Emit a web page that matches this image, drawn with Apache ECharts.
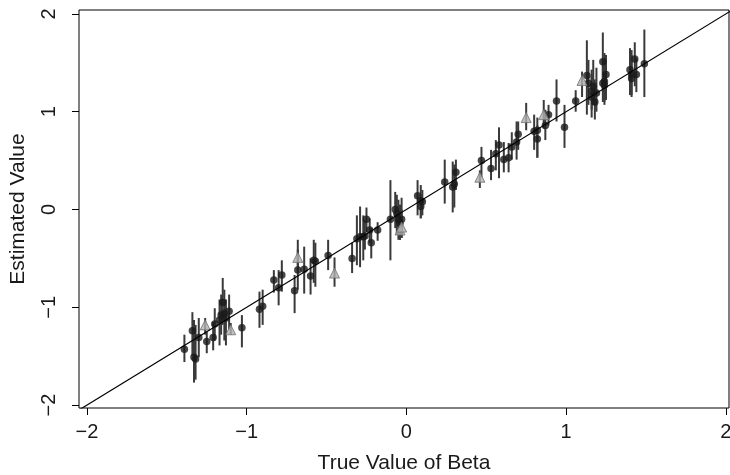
<!DOCTYPE html>
<html><head><meta charset="utf-8">
<script src="https://cdn.jsdelivr.net/npm/echarts@6/dist/echarts.min.js"></script>
<style>html,body{margin:0;padding:0;background:#fff}#c{width:730px;height:475px}</style>
</head><body><div id="c"></div>
<script>
// Black points: true beta, estimate, interval low/high
const dotX=[-1.39,-1.34,-1.33,-1.32,-1.30,-1.25,-1.21,-1.20,-1.17,-1.16,-1.15,-1.14,-1.13,-1.11,-1.03,-0.92,-0.90,-0.83,-0.80,-0.78,-0.70,-0.68,-0.64,-0.60,-0.58,-0.57,-0.49,-0.34,-0.31,-0.29,-0.27,-0.26,-0.25,-0.23,-0.22,-0.18,-0.10,-0.07,-0.06,-0.05,-0.03,-0.04,0.07,0.09,0.10,0.09,0.24,0.29,0.30,0.31,0.47,0.53,0.56,0.58,0.61,0.64,0.66,0.69,0.70,0.80,0.82,0.82,0.87,0.89,0.94,0.99,1.06,1.13,1.16,1.17,1.16,1.18,1.19,1.23,1.23,1.25,1.24,1.24,1.40,1.41,1.41,1.43,1.44,1.49,1.14];
const dotY=[-1.43,-1.24,-1.51,-1.53,-1.31,-1.35,-1.31,-1.17,-1.13,-1.08,-0.95,-1.06,-1.11,-1.04,-1.21,-1.02,-0.99,-0.72,-0.80,-0.67,-0.83,-0.62,-0.61,-0.68,-0.52,-0.53,-0.47,-0.50,-0.30,-0.28,-0.28,-0.27,-0.10,-0.21,-0.34,-0.21,-0.10,0.00,-0.04,-0.10,-0.10,-0.14,0.14,0.09,0.08,0.03,0.28,0.23,0.26,0.38,0.50,0.42,0.57,0.66,0.51,0.53,0.64,0.69,0.77,0.80,0.81,0.72,0.86,0.97,1.11,0.84,1.11,1.37,1.21,1.26,1.15,1.10,1.19,1.51,1.29,1.38,1.31,1.27,1.43,1.38,1.34,1.54,1.38,1.49,1.29];
const dotLo=[-1.56,-1.50,-1.77,-1.74,-1.51,-1.47,-1.44,-1.34,-1.39,-1.28,-1.18,-1.34,-1.39,-1.23,-1.41,-1.21,-1.18,-0.85,-0.98,-0.84,-1.06,-0.82,-0.86,-0.87,-0.75,-0.79,-0.62,-0.65,-0.57,-0.59,-0.52,-0.41,-0.23,-0.34,-0.50,-0.32,-0.52,-0.19,-0.26,-0.31,-0.29,-0.31,-0.06,-0.09,-0.06,-0.09,0.06,-0.03,0.02,0.20,0.33,0.30,0.40,0.32,0.38,0.38,0.51,0.51,0.61,0.61,0.53,0.53,0.71,0.86,0.90,0.63,1.00,0.97,1.02,1.07,0.94,0.92,1.00,1.20,1.10,1.12,1.10,1.07,1.17,1.15,1.17,1.26,1.20,1.15,1.07];
const dotHi=[-1.28,-1.05,-1.13,-1.18,-1.11,-1.25,-1.15,-1.01,-0.92,-0.87,-0.70,-0.82,-0.92,-0.87,-1.08,-0.84,-0.82,-0.62,-0.62,-0.52,-0.67,-0.41,-0.38,-0.50,-0.31,-0.34,-0.31,-0.34,-0.06,0.03,-0.06,-0.11,0.02,-0.09,-0.19,-0.13,0.30,0.18,0.15,0.10,0.12,0.05,0.30,0.25,0.20,0.15,0.51,0.49,0.46,0.51,0.64,0.61,0.71,0.84,0.69,0.68,0.79,0.90,0.90,0.97,0.94,0.86,1.02,1.07,1.33,1.07,1.22,1.73,1.43,1.53,1.38,1.33,1.45,1.81,1.53,1.58,1.60,1.48,1.65,1.63,1.58,1.71,1.55,1.84,1.53];
// Gray triangles
const triX=[-1.26,-1.10,-0.68,-0.45,-0.04,-0.03,0.46,0.75,0.86,1.10];
const triY=[-1.18,-1.23,-0.49,-0.65,-0.21,-0.18,0.33,0.94,0.97,1.32];
const triLo=[-1.28,-1.28,-0.62,-0.79,-0.31,-0.29,0.22,0.81,0.83,1.15];
const triHi=[-1.11,-1.16,-0.31,-0.49,-0.06,0.00,0.40,1.09,1.12,1.41];
const tickValues=[-2,-1,0,1,2];
const refLine=[[-2.1,-2.1],[2.1,2.1]];

const chart=echarts.init(document.getElementById('c'),null,{renderer:'canvas'});
const fmt=v=>String(v).replace('-','\u2212');
const FONT='Liberation Sans';
const dotBars=dotX.map((x,i)=>[x,dotLo[i],dotHi[i]]);
const triBars=triX.map((x,i)=>[x,triLo[i],triHi[i]]);
const dotPts=dotX.map((x,i)=>[x,dotY[i]]);
const triPts=triX.map((x,i)=>[x,triY[i]]);
function barRenderer(color){
  return function(params,api){
    const p1=api.coord([api.value(0),api.value(1)]);
    const p2=api.coord([api.value(0),api.value(2)]);
    return {type:'line',shape:{x1:p1[0],y1:p1[1],x2:p2[0],y2:p2[1]},style:{stroke:color,lineWidth:2}};
  };
}
const axisCommon={
  type:'value',splitLine:{show:false},axisLine:{show:false,onZero:false},
  axisTick:{show:true,customValues:tickValues,length:7,lineStyle:{color:'#000',width:1}},
  nameLocation:'middle',
  nameTextStyle:{fontSize:21,color:'#1a1a1a',fontFamily:FONT}
};
chart.setOption({
  animation:false,
  grid:{left:79,top:10,width:650,height:398,containLabel:false,outerBoundsMode:'none',show:true,borderColor:'#000',borderWidth:1,backgroundColor:'transparent'},
  xAxis:Object.assign({},axisCommon,{min:-2.05,max:2.02,name:'True Value of Beta',nameGap:45,
    axisLabel:{customValues:tickValues,formatter:fmt,margin:14,fontSize:20,color:'#1a1a1a',fontFamily:FONT}}),
  yAxis:Object.assign({},axisCommon,{min:-2.03,max:2.04,name:'Estimated Value',nameGap:50,
    axisLabel:{customValues:tickValues,formatter:fmt,margin:20,rotate:90,fontSize:20,color:'#1a1a1a',fontFamily:FONT}}),
  series:[
    {type:'line',data:refLine,showSymbol:false,clip:true,lineStyle:{color:'#000',width:1.2},silent:true},
    {type:'custom',data:dotBars,renderItem:barRenderer('#3a3a3a'),encode:{x:0,y:[1,2]},clip:true},
    {type:'custom',data:triBars,renderItem:barRenderer('#3a3a3a'),encode:{x:0,y:[1,2]},clip:true},
    {type:'scatter',data:dotPts,symbol:'circle',symbolSize:7.5,itemStyle:{color:'#1a1a1a'}},
    {type:'scatter',data:triPts,symbol:'triangle',symbolSize:10,itemStyle:{color:'#b0b0b0',borderColor:'#707070',borderWidth:1}}
  ]
});
</script></body></html>
